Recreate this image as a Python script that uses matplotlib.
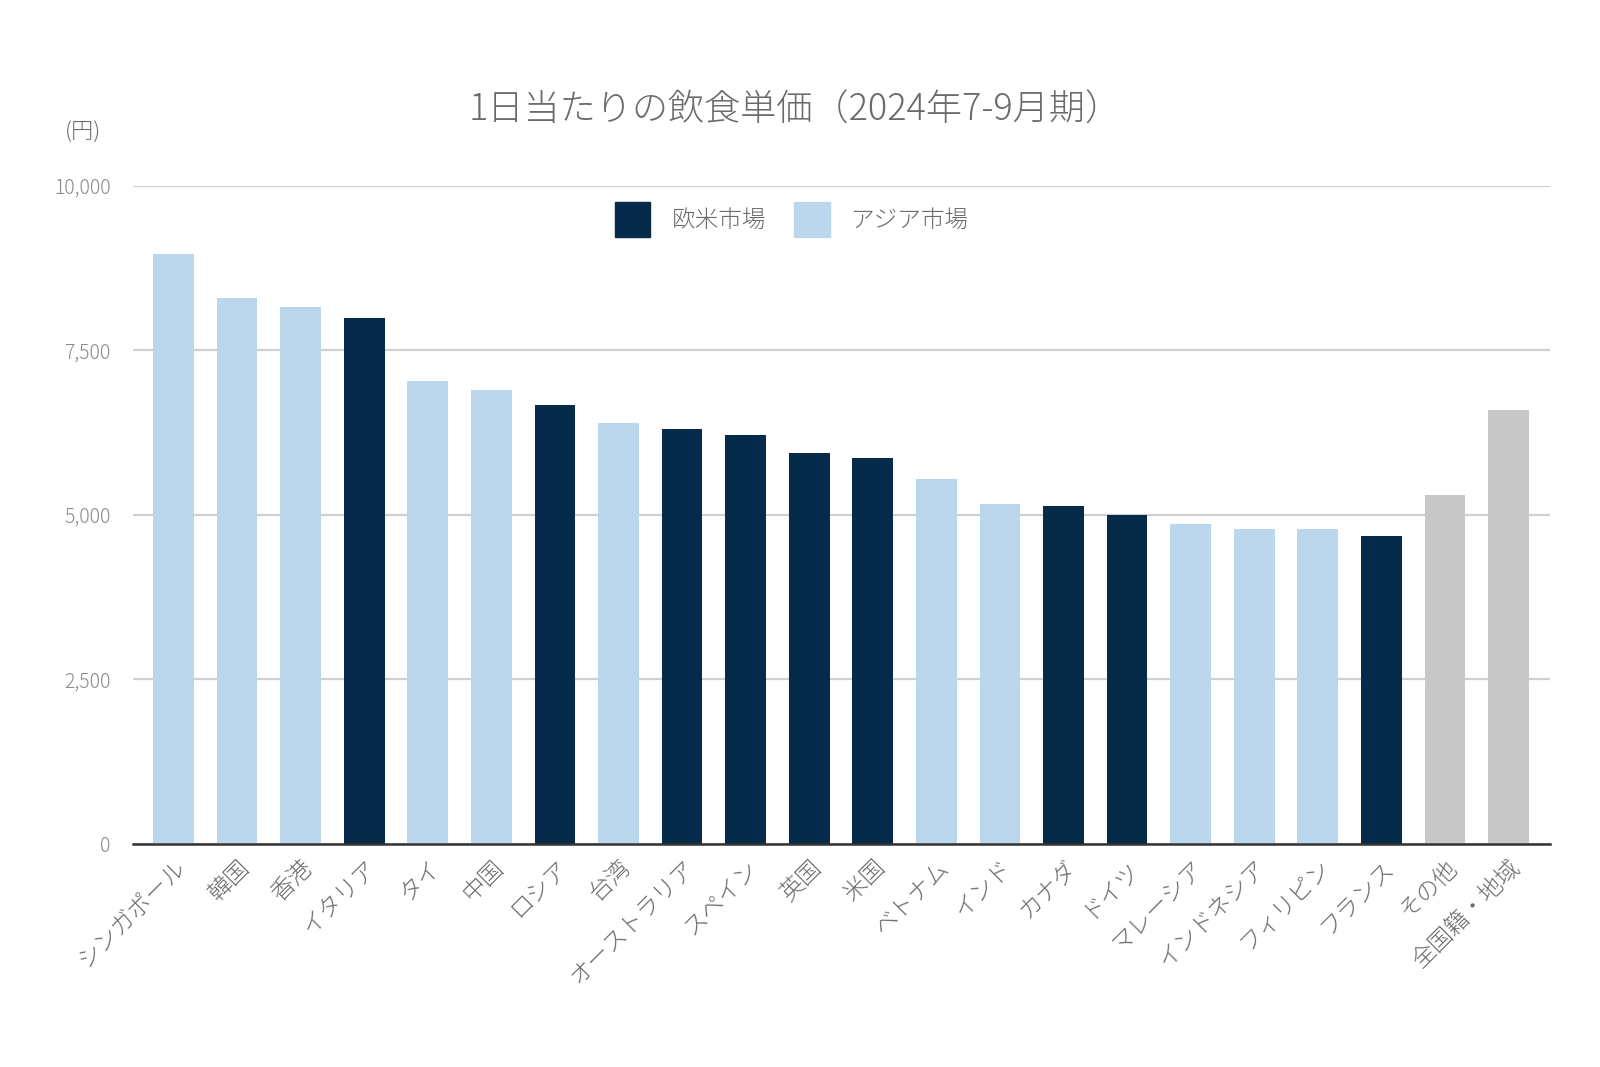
import matplotlib
matplotlib.use('Agg')
import matplotlib.pyplot as plt
from matplotlib.patches import Patch

plt.rcParams['font.family'] = ['Noto Sans CJK JP', 'DejaVu Sans']

countries = ['シンガポール', '韓国', '香港', 'イタリア', 'タイ', '中国', 'ロシア', '台湾',
             'オーストラリア', 'スペイン', '英国', '米国', 'ベトナム', 'インド', 'カナダ',
             'ドイツ', 'マレーシア', 'インドネシア', 'フィリピン', 'フランス', 'その他', '全国籍・地域']
values = [8960, 8295, 8155, 7985, 7040, 6900, 6665, 6390, 6310, 6215, 5940, 5860,
          5550, 5165, 5130, 4990, 4855, 4790, 4790, 4680, 5300, 6590]
market = ['asia', 'asia', 'asia', 'west', 'asia', 'asia', 'west', 'asia', 'west', 'west', 'west', 'west',
          'asia', 'asia', 'west', 'west', 'asia', 'asia', 'asia', 'west', 'other', 'other']

colors = {'west': '#062B4A', 'asia': '#BAD7EE', 'other': '#C8C8C8'}
txt = '#6b6b6b'

fig = plt.figure(figsize=(16, 10.67), dpi=100)
ax = fig.add_axes([0.083, 0.209, 0.886, 0.617])

x = range(len(countries))
ax.bar(x, values, width=0.64, color=[colors[m] for m in market], zorder=3)

ax.set_ylim(0, 10000)
ax.set_xlim(-0.64, len(countries) - 1 + 0.66)
ax.set_yticks([0, 2500, 5000, 7500, 10000])
ax.set_yticklabels([f'{v:,}' for v in [0, 2500, 5000, 7500, 10000]], fontsize=14,
                   color='#8a8a8a', fontweight='light')
ax.yaxis.grid(True, color='#d0d0d0', lw=1.6, zorder=0)
ax.tick_params(axis='y', length=0, pad=16)
ax.tick_params(axis='x', length=0, pad=8)
ax.set_xticks(list(x))
ax.set_xticklabels(countries, rotation=45, ha='right', rotation_mode='anchor',
                   fontsize=17, color=txt, fontweight='light')
for s in ['left', 'right', 'top']:
    ax.spines[s].set_visible(False)
ax.spines['bottom'].set_color('#333333')
ax.spines['bottom'].set_linewidth(1.8)
ax.spines['bottom'].set_zorder(4)

fig.text(0.497, 0.897, '1日当たりの飲食単価（2024年7-9月期）', ha='center', va='center',
         fontsize=26, color=txt, fontweight='light')
fig.text(0.052, 0.876, '(円)', ha='center', va='center', fontsize=16, color=txt,
         fontweight='light')

handles = [Patch(color=colors['west'], label='欧米市場'),
           Patch(color=colors['asia'], label='アジア市場')]
fig.legend(handles=handles, loc='center', bbox_to_anchor=(0.495, 0.794), ncol=2,
           frameon=False, fontsize=17, labelcolor=txt, handlelength=1.5, handleheight=1.9,
           handletextpad=0.9, columnspacing=1.2, prop={'size': 17, 'weight': 'light'})

fig.savefig('out.png', dpi=100)
